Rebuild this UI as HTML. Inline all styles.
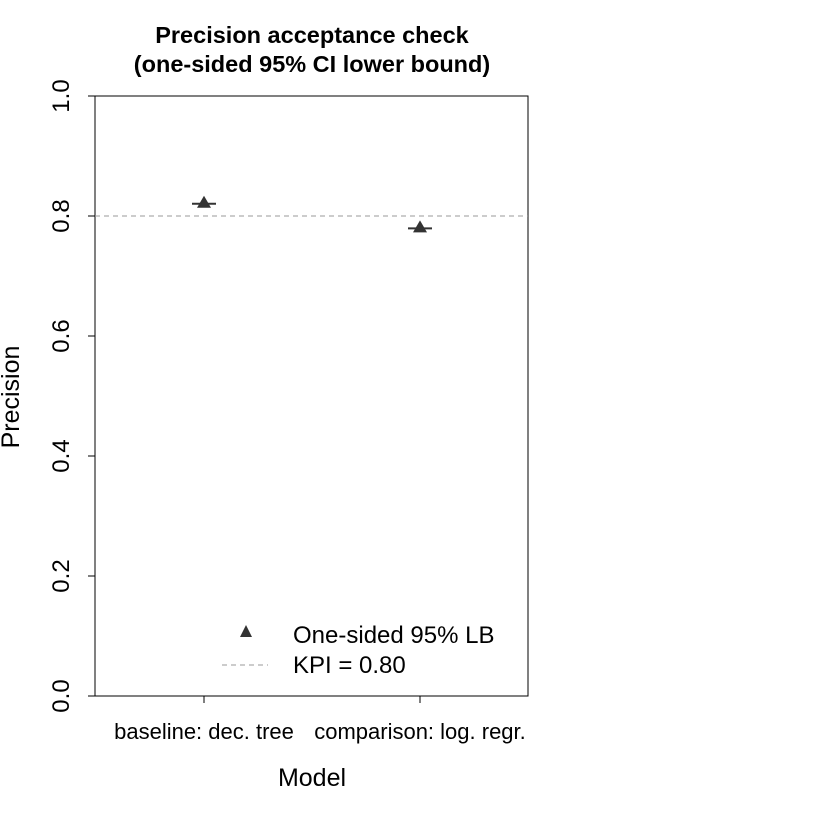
<!DOCTYPE html>
<html><head><meta charset="utf-8"><style>html,body{margin:0;padding:0;background:#fff}svg{display:block}text{font-family:"Liberation Sans",sans-serif}</style></head>
<body>
<svg id="c" width="840" height="840" viewBox="0 0 840 840">
<text x="312" y="43" text-anchor="middle" font-size="23.5" font-weight="bold">Precision acceptance check</text>
<text x="312" y="72" text-anchor="middle" font-size="23.5" font-weight="bold">(one-sided 95% CI lower bound)</text>
<rect x="95" y="96" width="433" height="600" fill="none" stroke="#000" stroke-width="1"/>
<g id="yaxis"></g>
<g id="xaxis"></g>
<text transform="translate(19,397) rotate(-90)" text-anchor="middle" font-size="25">Precision</text>
<text x="312" y="786" text-anchor="middle" font-size="25">Model</text>
<g id="marks"></g>
<g>
<polygon points="246,625 252,637 240,637" fill="#333"/>
<text x="293" y="643" font-size="24">One-sided 95% LB</text>
<line x1="222" y1="665" x2="268" y2="665" stroke="#999" stroke-dasharray="5,4"/>
<text x="293" y="673" font-size="24">KPI = 0.80</text>
</g>
</svg>
<script>
const categories=["baseline: dec. tree","comparison: log. regr."];
const lowerBounds=[0.822,0.781];
const kpi=0.80;
const yTicks=[0,0.2,0.4,0.6,0.8,1.0];
const yTickLabels=["0.0","0.2","0.4","0.6","0.8","1.0"];
const NS="http://www.w3.org/2000/svg";
const y=v=>696-v*600;
const x=i=>204+i*216;
function mk(t,a,p){const e=document.createElementNS(NS,t);for(const k in a)e.setAttribute(k,a[k]);p.appendChild(e);return e;}
const ya=document.getElementById('yaxis'),xa=document.getElementById('xaxis'),mg=document.getElementById('marks');
mk('line',{x1:95,x2:95,y1:y(0),y2:y(1),stroke:'#000'},ya);
yTicks.forEach((v,i)=>{
 const l=mk('line',{x1:88,x2:95,y1:y(v),y2:y(v),stroke:'#000'},ya);
 
 
 const t=mk('text',{transform:`translate(69,${y(v)}) rotate(-90)`,'text-anchor':'middle','font-size':24},ya);
 t.textContent=yTickLabels[i];
 
 
});
mk('line',{x1:x(0),x2:x(categories.length-1),y1:696,y2:696,stroke:'#000'},xa);
categories.forEach((c,i)=>{
 const l=mk('line',{x1:x(i),x2:x(i),y1:696,y2:703,stroke:'#000'},xa);
 
 
 const t=mk('text',{x:x(i),y:739,'text-anchor':'middle','font-size':22},xa);
 t.textContent=c;
 
 
});
const k=mk('line',{x1:95,x2:528,y1:y(kpi),y2:y(kpi),stroke:'#999','stroke-dasharray':'5,4'},mg);


lowerBounds.forEach((v,i)=>{
 const cx=x(i),cy=y(v);
 const s=mk('line',{x1:cx-12,x2:cx+12,y1:cy+1,y2:cy+1,stroke:'#333','stroke-width':2},mg);
 
 
 const p=mk('polygon',{points:`${cx},${cy-7} ${cx+7},${cy+5} ${cx-7},${cy+5}`,fill:'#333'},mg);
 
 
});
</script>
</body></html>
